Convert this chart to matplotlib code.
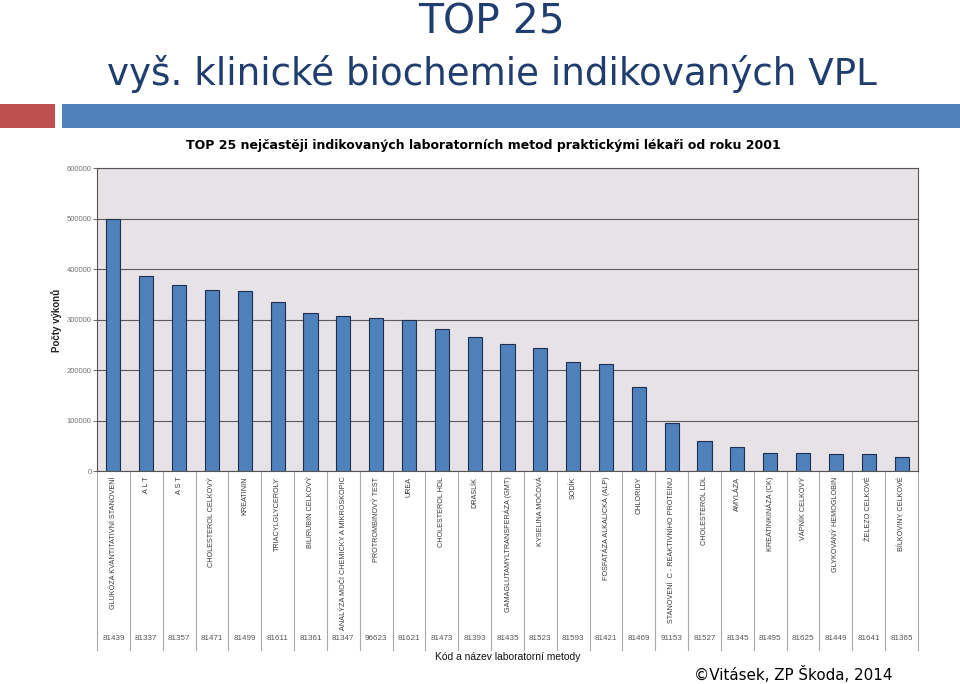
import matplotlib
matplotlib.use("Agg")
import matplotlib.pyplot as plt
from matplotlib import font_manager
from matplotlib.patches import Rectangle
import matplotlib.transforms as mtransforms

names = {f.name for f in font_manager.fontManager.ttflist}
TITLE_FONT = ['Noto Sans CJK SC', 'DejaVu Sans'] if 'Noto Sans CJK SC' in names else ['DejaVu Sans']
SANS = 'Liberation Sans' if 'Liberation Sans' in names else 'DejaVu Sans'

categories = [
    "GLUKÓZA KVANTITATIVNÍ STANOVENÍ", "A L T", "A S T", "CHOLESTEROL CELKOVÝ",
    "KREATININ", "TRIACYLGLYCEROLY", "BILIRUBIN CELKOVÝ",
    "ANALÝZA MOČI CHEMICKY A MIKROSKOPIC", "PROTROMBINOVÝ TEST", "UREA",
    "CHOLESTEROL HDL", "DRASLÍK", "GAMAGLUTAMYLTRANSFERÁZA (GMT)",
    "KYSELINA MOČOVÁ", "SODÍK", "FOSFATÁZA ALKALICKÁ (ALP)", "CHLORIDY",
    "STANOVENÍ  C - REAKTIVNÍHO PROTEINU", "CHOLESTEROL LDL", "AMYLÁZA",
    "KREATINKINÁZA (CK)", "VÁPNÍK CELKOVÝ", "GLYKOVANÝ HEMOGLOBIN",
    "ŽELEZO CELKOVÉ", "BÍLKOVINY CELKOVÉ",
]
codes = ["81439", "81337", "81357", "81471", "81499", "81611", "81361", "81347",
         "96623", "81621", "81473", "81393", "81435", "81523", "81593", "81421",
         "81469", "91153", "81527", "81345", "81495", "81625", "81449", "81641",
         "81365"]
values = [500000, 386000, 368000, 358000, 356000, 335000, 312000, 306000,
          302000, 299000, 281000, 266000, 251000, 243500, 216000, 212000,
          167000, 96000, 59000, 47000, 36300, 36300, 34300, 33700, 27700]
yticks = [0, 100000, 200000, 300000, 400000, 500000, 600000]

W, H = 960, 684
fig = plt.figure(figsize=(W / 100, H / 100), dpi=100)
fig.patch.set_facecolor('white')

def fx(px):
    return px / W

def fy(py):
    return 1 - py / H

fit_list = []

def ftext(xp, yp, s, width=None, **kw):
    t = fig.text(fx(xp), fy(yp), s, **kw)
    if width is not None:
        fit_list.append((t, width))
    return t

title_color = '#1F3D6E'
ftext(491, 22, "TOP 25", width=147, ha='center', va='center', fontsize=34,
      color=title_color, family=TITLE_FONT)
ftext(492, 74, "vyš. klinické biochemie indikovaných VPL", width=771,
      ha='center', va='center', fontsize=34, color=title_color, family=TITLE_FONT)

fig.add_artist(Rectangle((0, fy(128)), fx(55), 24 / H, transform=fig.transFigure,
                         facecolor='#C0504D', edgecolor='none'))
fig.add_artist(Rectangle((fx(62), fy(128)), fx(960 - 62), 24 / H,
                         transform=fig.transFigure, facecolor='#4F81BD',
                         edgecolor='none'))

ftext(483, 146, "TOP 25 nejčastěji indikovaných laboratorních metod praktickými lékaři od roku 2001",
      width=596, ha='center', va='center', fontsize=11, fontweight='bold',
      color='black', family=TITLE_FONT)

left, right, top, bottom = 97, 918, 168, 471
ax = fig.add_axes([fx(left), fy(bottom), fx(right - left), (bottom - top) / H])
ax.set_facecolor('#E6E2E6')
x = list(range(len(categories)))
ax.bar(x, values, width=0.43, color='#4F81BD', edgecolor='#1F2F4F',
       linewidth=0.8, zorder=3)
ax.set_xlim(-0.5, len(categories) - 0.5)
ax.set_ylim(0, 600000)
ax.set_yticks(yticks)
ax.set_yticklabels([str(v) for v in yticks], fontsize=5.5, color='#707070',
                   family=SANS)
ax.yaxis.grid(True, color='#5A5A5A', linewidth=0.8, zorder=1)
ax.set_axisbelow(True)
ax.tick_params(axis='y', length=3, width=0.6, color='#555555', pad=1)
ax.set_xticks(x)
ax.set_xticklabels(categories, rotation=90, fontsize=5.2, color='#3A3A3A',
                   family=SANS, va='top', ha='center')
ax.tick_params(axis='x', length=0, pad=4)
for s in ax.spines.values():
    s.set_color('#555555')
    s.set_linewidth(0.8)

trans = mtransforms.blended_transform_factory(ax.transData, ax.transAxes)
bot_frac = -(650 - bottom) / (bottom - top)
for k in range(len(categories) + 1):
    ax.plot([k - 0.5, k - 0.5], [0, bot_frac], transform=trans, color='#A8A8A8',
            linewidth=0.8, clip_on=False, zorder=0)
code_y = -(638 - bottom) / (bottom - top)
for i, c in enumerate(codes):
    ax.text(i, code_y, c, transform=trans, ha='center', va='center',
            fontsize=5.8, color='#555555', family=SANS)

ftext(57, 320, "Počty výkonů", rotation=90, ha='center', va='center',
      fontsize=7, fontweight='bold', color='#222222', family=SANS)
ftext(508, 657, "Kód a název laboratorní metody", width=145, ha='center',
      va='center', fontsize=7, color='#111111', family=SANS)

ftext(893, 675, "©Vitásek, ZP Škoda, 2014", width=198, ha='right', va='center',
      fontsize=12, color='black', family=TITLE_FONT)

fig.canvas.draw()
renderer = fig.canvas.get_renderer()
for t, wtarget in fit_list:
    wcur = t.get_window_extent(renderer).width
    if wcur > 0:
        t.set_fontsize(t.get_fontsize() * wtarget / wcur)

fig.savefig('out.png', dpi=100)
